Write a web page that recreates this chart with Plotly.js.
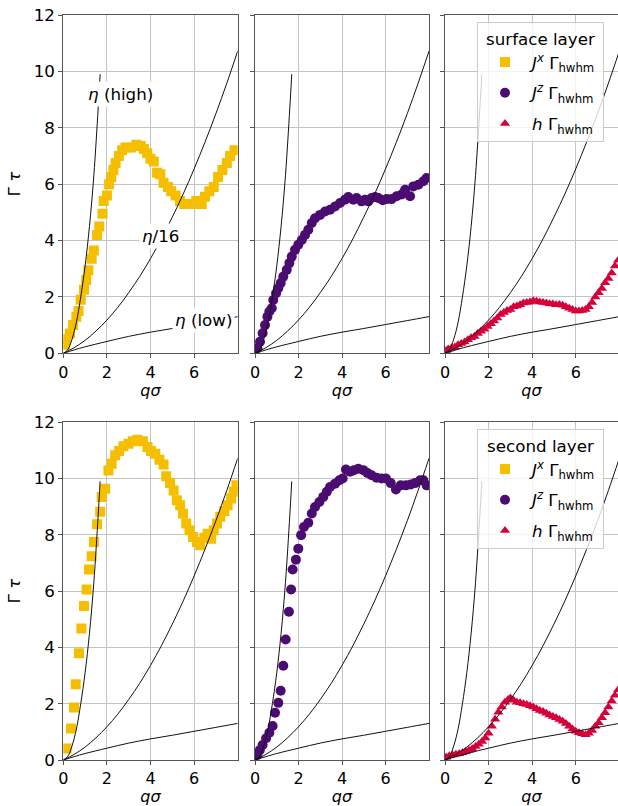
<!DOCTYPE html>
<html>
<head>
<meta charset="utf-8">
<script src="https://cdn.plot.ly/plotly-3.0.1.min.js"></script>
<style>html,body{margin:0;padding:0;background:#fff;}</style>
</head>
<body>
<div id="chart" style="width:618px;height:806px;"></div>
<script>
// ---------- data ----------
// theory curves (same in every panel)
const etaHighQ = [0, 0.2, 0.4, 0.6, 0.8, 1.0, 1.2, 1.4, 1.6, 1.69];
const etaHighG = [0, 0.12, 0.5, 1.1, 2.0, 3.1, 4.5, 6.3, 8.7, 9.9];
const eta16Q = [0, 0.5, 1, 1.5, 2, 2.5, 3, 3.5, 4, 4.5, 5, 5.5, 6, 6.5, 7, 7.5, 8];
const eta16G = [0, 0.2, 0.46, 0.79, 1.18, 1.63, 2.15, 2.72, 3.36, 4.06, 4.83, 5.65, 6.54, 7.49, 8.5, 9.58, 10.72];
const etaLowQ = [0, 0.5, 1, 2, 3, 4, 5, 6, 7, 8];
const etaLowG = [0, 0.12, 0.23, 0.42, 0.6, 0.75, 0.88, 1.02, 1.16, 1.3];

// surface layer
const jxSurfQ = [0.08,0.12,0.3,0.45,0.6,0.7,0.8,0.95,1.05,1.15,1.3,1.4,1.55,1.65,1.8,1.85,2.0,2.1,2.2,2.3,2.4,2.55,2.7,2.85,3.1,3.35,3.55,3.7,3.85,4.0,4.15,4.3,4.45,4.6,4.8,4.95,5.15,5.35,5.55,5.75,5.9,6.1,6.35,6.5,6.7,6.9,7.1,7.3,7.5,7.65,7.85];
const jxSurfG = [0.3,0.5,0.7,1.0,1.3,1.5,1.9,2.25,2.6,2.95,3.35,3.65,4.2,4.5,4.95,5.4,5.6,6.0,6.25,6.5,6.75,7.0,7.2,7.3,7.3,7.4,7.35,7.25,7.1,6.9,6.8,6.4,6.35,6.05,5.9,5.75,5.6,5.4,5.3,5.3,5.3,5.4,5.3,5.55,5.75,5.9,6.25,6.5,6.75,7.0,7.2];
const jzSurfQ = [0.11,0.23,0.35,0.46,0.57,0.66,0.77,0.84,0.97,1.07,1.18,1.3,1.46,1.58,1.69,1.84,1.99,2.15,2.3,2.45,2.61,2.76,2.99,3.22,3.45,3.68,3.91,4.14,4.29,4.52,4.67,4.9,5.06,5.21,5.36,5.52,5.67,5.87,6.05,6.28,6.51,6.74,6.9,7.13,7.28,7.51,7.74,7.89];
const jzSurfG = [0.18,0.41,0.71,1.0,1.3,1.48,1.6,1.89,2.13,2.31,2.49,2.72,2.96,3.2,3.43,3.67,3.85,4.02,4.2,4.38,4.62,4.79,4.91,5.03,5.09,5.21,5.33,5.45,5.54,5.45,5.51,5.39,5.45,5.39,5.51,5.54,5.51,5.43,5.47,5.47,5.57,5.63,5.8,5.57,5.92,5.98,6.1,6.22];
const hSurfQ = [0.05,0.15,0.3,0.45,0.6,0.75,0.9,1.05,1.2,1.35,1.5,1.65,1.8,1.95,2.1,2.25,2.4,2.55,2.7,2.85,3.0,3.15,3.3,3.45,3.6,3.75,3.9,4.05,4.2,4.35,4.5,4.65,4.8,4.95,5.1,5.25,5.4,5.55,5.7,5.85,6.0,6.15,6.3,6.45,6.6,6.75,6.9,7.05,7.2,7.35,7.5,7.65,7.8,7.95];
const hSurfG = [0.1,0.15,0.2,0.22,0.3,0.35,0.4,0.48,0.55,0.6,0.7,0.78,0.85,0.95,1.05,1.15,1.25,1.38,1.45,1.52,1.55,1.65,1.68,1.72,1.78,1.8,1.82,1.86,1.85,1.82,1.8,1.78,1.76,1.75,1.72,1.73,1.7,1.65,1.6,1.55,1.5,1.5,1.52,1.55,1.65,1.8,2.0,2.15,2.3,2.5,2.65,2.85,3.1,3.3];

// second layer
const jxSecQ = [0.15,0.35,0.49,0.57,0.72,0.83,0.95,1.07,1.18,1.3,1.41,1.55,1.69,1.76,1.92,2.07,2.22,2.38,2.56,2.76,2.99,3.19,3.4,3.65,3.86,4.02,4.22,4.41,4.6,4.72,4.9,5.06,5.21,5.36,5.49,5.64,5.79,5.95,6.13,6.28,6.47,6.62,6.78,6.9,7.05,7.2,7.39,7.54,7.7,7.82,7.94];
const jxSecG = [0.41,1.12,1.87,2.69,3.79,4.67,5.47,6.06,6.77,7.24,7.75,8.38,8.82,9.35,9.64,10.29,10.53,10.83,10.98,11.15,11.24,11.33,11.38,11.33,11.12,10.98,10.88,10.67,10.5,10.08,9.84,9.58,9.23,9.05,8.75,8.4,8.16,7.92,7.75,7.63,7.9,8.04,7.86,8.16,8.4,8.64,8.85,9.05,9.29,9.53,9.76];
const jzSecQ = [0.11,0.22,0.35,0.51,0.66,0.81,0.92,1.07,1.18,1.3,1.41,1.56,1.66,1.73,1.88,1.99,2.12,2.25,2.45,2.61,2.76,2.96,3.14,3.3,3.45,3.68,3.88,4.03,4.18,4.37,4.55,4.75,4.98,5.17,5.36,5.59,5.82,6.02,6.24,6.48,6.7,6.94,7.16,7.36,7.59,7.74,7.89];
const jzSecG = [0.18,0.35,0.53,0.77,0.97,1.21,1.68,2.03,2.46,3.35,4.28,5.27,6.06,6.77,7.12,7.51,7.99,8.28,8.43,8.76,8.99,9.17,9.35,9.53,9.7,9.82,9.94,10.0,10.32,10.24,10.3,10.35,10.3,10.2,10.12,10.03,10.0,10.0,9.84,9.61,9.76,9.76,9.79,9.84,9.94,9.94,9.76];
const hSecQ = [0.05,0.2,0.35,0.5,0.65,0.8,0.95,1.1,1.25,1.4,1.55,1.7,1.85,2.0,2.15,2.3,2.45,2.6,2.75,2.9,3.0,3.15,3.3,3.45,3.6,3.75,3.9,4.05,4.2,4.35,4.5,4.65,4.8,4.95,5.1,5.25,5.4,5.55,5.7,5.85,6.0,6.15,6.3,6.45,6.6,6.75,6.9,7.05,7.2,7.35,7.5,7.65,7.8,7.95];
const hSecG = [0.1,0.15,0.18,0.2,0.22,0.26,0.3,0.35,0.4,0.48,0.56,0.66,0.78,0.95,1.2,1.45,1.7,1.88,2.05,2.15,2.2,2.12,2.05,2.03,2.0,1.97,1.93,1.88,1.82,1.76,1.72,1.66,1.6,1.55,1.5,1.44,1.38,1.3,1.2,1.1,1.02,0.97,0.93,0.9,0.95,1.05,1.2,1.32,1.5,1.68,1.88,2.1,2.3,2.5];

const xTicks = [0, 2, 4, 6];
const yTicks = [0, 2, 4, 6, 8, 10, 12];

const cJx = '#f5bf00', cJz = '#4b0c72', cH = '#d6003a';
const nameJx = '<i>J</i><sup><i>x</i></sup> Γ<sub>hwhm</sub>';
const nameJz = '<i>J</i><sup><i>z</i></sup> Γ<sub>hwhm</sub>';
const nameH = '<i>h</i> Γ<sub>hwhm</sub>';

// ---------- traces ----------
const W = 618, H = 806;
const traces = [];
function dataTrace(q, g, ax, color, symbol, size, name, leg, grp) {
  return {x: q, y: g, xaxis: 'x' + ax, yaxis: 'y' + ax, type: 'scatter', mode: 'markers',
    name: name, legend: leg, legendgroup: grp, showlegend: true,
    marker: {color: color, symbol: symbol, size: size, line: {width: 0}}};
}
traces.push(dataTrace(jxSurfQ, jxSurfG, '', cJx, 'square', 10, nameJx, 'legend', 'a1'));
traces.push(dataTrace(jzSurfQ, jzSurfG, '2', cJz, 'circle', 10, nameJz, 'legend', 'a2'));
traces.push(dataTrace(hSurfQ, hSurfG, '3', cH, 'triangle-up', 9, nameH, 'legend', 'a3'));
traces.push(dataTrace(jxSecQ, jxSecG, '4', cJx, 'square', 10, nameJx, 'legend2', 'b1'));
traces.push(dataTrace(jzSecQ, jzSecG, '5', cJz, 'circle', 10, nameJz, 'legend2', 'b2'));
traces.push(dataTrace(hSecQ, hSecG, '6', cH, 'triangle-up', 9, nameH, 'legend2', 'b3'));

const axNames = ['', '2', '3', '4', '5', '6'];
axNames.forEach(a => {
  [[etaHighQ, etaHighG], [eta16Q, eta16G], [etaLowQ, etaLowG]].forEach(c => {
    traces.push({x: c[0], y: c[1], xaxis: 'x' + a, yaxis: 'y' + a, type: 'scatter', mode: 'lines',
      line: {color: '#111', width: 1, shape: 'spline', smoothing: 1}, showlegend: false, hoverinfo: 'skip'});
  });
});

// ---------- layout ----------
const font = {family: 'DejaVu Sans, sans-serif', size: 16.7, color: '#000'};
const xFont = {family: 'DejaVu Sans, sans-serif', size: 16, color: '#000'};
const xDom = [[63.3 / W, 237.7 / W], [255 / W, 429 / W], [445 / W, 1]];
const yDomTop = [1 - 353.3 / H, 1 - 15 / H];
const yDomBot = [1 - 760 / H, 1 - 422.3 / H];

const layout = {
  width: W, height: H, margin: {l: 0, r: 0, t: 0, b: 0},
  paper_bgcolor: '#fff', plot_bgcolor: '#fff', font: font, showlegend: true,
  annotations: []
};
function baseAxis() {
  return {showgrid: true, gridcolor: '#c4c4c4', gridwidth: 1, zeroline: false,
    showline: true, linecolor: '#555', linewidth: 1, mirror: true,
    ticks: 'outside', ticklen: 4, tickcolor: '#555', tickwidth: 1,
    tickfont: font, automargin: false, fixedrange: true};
}
for (let i = 0; i < 6; i++) {
  const a = i === 0 ? '' : String(i + 1);
  const col = i % 3, top = i < 3;
  const xa = baseAxis();
  xa.domain = xDom[col];
  xa.range = col === 2 ? [0, 7.94] : [0, 8.0];
  xa.tickvals = xTicks; xa.ticktext = xTicks.map(String);
  xa.tickfont = xFont;
  xa.anchor = 'y' + a;
  xa.title = {text: '<i>qσ</i>', font: xFont, standoff: 2};
  const ya = baseAxis();
  ya.domain = top ? yDomTop : yDomBot;
  ya.range = [0, 12];
  ya.tickvals = yTicks; ya.ticktext = yTicks.map(String);
  ya.anchor = 'x' + a;
  ya.showticklabels = col === 0;
  if (col === 0) ya.title = {text: 'Γ <i>τ</i>', font: font, standoff: 8};
  layout['xaxis' + a] = xa;
  layout['yaxis' + a] = ya;
}

const legendBase = {
  xanchor: 'left', yanchor: 'top', bgcolor: 'rgba(255,255,255,0.8)',
  bordercolor: '#cccccc', borderwidth: 1, font: font, itemsizing: 'trace',
  tracegroupgap: 6, itemwidth: 44, traceorder: 'grouped'
};
layout.legend = Object.assign({}, legendBase, {x: 477 / W, y: 1 - 22 / H,
  title: {text: 'surface layer', font: font, side: 'top center'}});
layout.legend2 = Object.assign({}, legendBase, {x: 477 / W, y: 1 - 429 / H,
  title: {text: 'second layer', font: font, side: 'top center'}});

const annBase = {xref: 'x', yref: 'y', showarrow: false, bgcolor: '#fff', font: font, borderpad: 2};
layout.annotations.push(Object.assign({}, annBase, {x: 2.61, y: 9.2, text: '<i>η</i> (high)'}));
layout.annotations.push(Object.assign({}, annBase, {x: 4.45, y: 4.16, text: '<i>η</i>/16'}));
layout.annotations.push(Object.assign({}, annBase, {x: 6.42, y: 1.18, text: '<i>η</i> (low)'}));

Plotly.newPlot('chart', traces, layout, {staticPlot: true, displayModeBar: false});
</script>
</body>
</html>
